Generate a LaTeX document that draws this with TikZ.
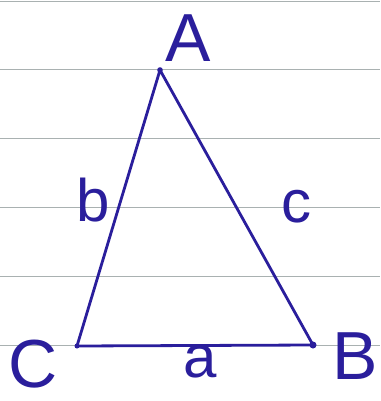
\documentclass[tikz,border=0pt]{standalone}
\usepackage{fontspec}
\setmainfont{Liberation Sans}
\usetikzlibrary{positioning}
\definecolor{ink}  {HTML}{2A1E9C}
\definecolor{rule} {HTML}{A9B1B1}

\begin{document}
\begin{tikzpicture}[x=1pt, y=-1pt,
    ink line/.style={draw=ink, line width=2.8pt, line cap=round, line join=round},
    vlabel/.style={text=ink, inner sep=0pt, font=\fontsize{68}{68}\selectfont},
    slabel/.style={text=ink, inner sep=0pt, font=\fontsize{60}{60}\selectfont}]
      \useasboundingbox (0,0) rectangle (380,401);
      \fill[white] (0,0) rectangle (380,401);
      % ruled paper
      \foreach \y in {1,69,138,207,276,345}
        \draw[rule, line width=0.9pt] (0,\y) -- (380,\y);
      % vertices
      \coordinate (A) at (160,70);
      \coordinate (B) at (313,345);
      \coordinate (C) at (77,346);
      \draw[ink line] (A) -- (B) -- (C) -- cycle;
      \fill[ink] (B) circle (3.5pt);
      \fill[ink] (C) circle (2.5pt);
      \fill[ink] (A) circle (2.8pt);
      % labels
      \node[vlabel] (la) at (188,38) {A};
      \node[vlabel] (lb) at (355,356) {B};
      \node[vlabel] (lc) at (33,364) {C};
      \node[slabel] (sa) at (200,362) {a};
      \node[slabel] (sb) at (93,200) {b};
      \node[slabel] (sc) at (296,207) {c};
    \end{tikzpicture}
\end{document}
